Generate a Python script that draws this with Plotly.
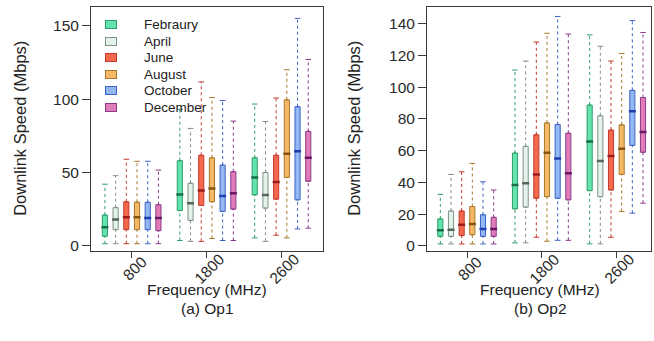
import plotly.graph_objects as go

months = ["Febraury", "April", "June", "August", "October", "December"]
freqs = ["800", "1800", "2600"]

fill_colors = ["#63e3ad", "#e4f3ea", "#f4694e", "#f4b866", "#94b8f1", "#e07cb8"]
line_colors = ["#2f9e6c", "#7f9188", "#c23a2c", "#a8782a", "#3d62c7", "#8a3a8a"]
median_colors = ["#1b7048", "#55665d", "#9c1c1c", "#845510", "#1f3fae", "#661766"]

# Op1 stats: per month, values for [800, 1800, 2600]
op1_lo  = [[1.4, 3.6, 5.4], [1.4, 3.0, 3.0], [1.4, 3.0, 7.2], [1.4, 5.0, 5.4], [1.4, 3.6, 11.5], [1.4, 3.6, 12.0]]
op1_q1  = [[6.5, 24, 34.7], [11, 17.3, 25.7], [11, 27.5, 31.8], [11, 30, 46.6], [11, 23.4, 31.3], [10.3, 25, 44]]
op1_med = [[12.6, 35, 46.6], [18, 29, 34.7], [19.4, 37.6, 43.5], [19.4, 39, 62.8], [19, 34, 64.4], [19, 35.8, 60]]
op1_q3  = [[21, 58, 60], [26, 42.6, 50], [30, 61.7, 61.7], [29.7, 60, 99.5], [29.7, 55, 94.8], [28, 50.5, 78]]
op1_hi  = [[42, 93, 96.6], [47.8, 80, 84.7], [59, 111.7, 100.7], [57.6, 101, 120], [57.6, 99, 155], [51.6, 85, 127]]

# Op2 stats
op2_lo  = [[1.2, 1.9, 1.25], [1.2, 1.9, 1.25], [1.2, 5.4, 5.4], [1.2, 2.9, 21.7], [1.2, 3.5, 20.6], [1.2, 3.5, 26.9]]
op2_q1  = [[6, 23.3, 34.8], [6, 24.4, 31], [6.5, 30, 35.2], [7, 31, 45], [6, 30, 63.3], [6, 29, 59]]
op2_med = [[9.8, 38.3, 65.8], [10.2, 39.4, 53.5], [13.3, 45, 56.7], [13.75, 58.75, 61.25], [10.6, 55, 84.8], [10.6, 45.8, 71.7]]
op2_q3  = [[17, 58.5, 88.75], [22, 62.7, 82], [22, 70, 73], [24.8, 77.5, 76.25], [19.6, 76.5, 98], [18, 71, 93.5]]
op2_hi  = [[32.5, 110.8, 133], [45, 116.5, 125.8], [46.7, 128.5, 116.5], [52, 134, 121.25], [40.4, 144.6, 142], [35.2, 133.5, 134.5]]

op1_yticks = [0, 50, 100, 150]
op2_yticks = [0, 20, 40, 60, 80, 100, 120, 140]

panel_titles = ["(a) Op1", "(b) Op2"]
x_title = "Frequency (MHz)"
y_title = "Downlink Speed (Mbps)"

FONT = "Liberation Sans, Arial, sans-serif"
TXT = "#222222"
n_m = len(months)
slot = n_m + 1
box_w = 0.48
W, H = 654, 341

def pos(i, j):
    return i * slot + j + 1

fig = go.Figure()

def add_panel(lo, q1, med, q3, hi, xa, ya):
    for j, m in enumerate(months):
        xs = [pos(i, j) for i in range(len(freqs))]
        fig.add_trace(go.Box(
            x=xs, q1=q1[j], median=med[j], q3=q3[j],
            lowerfence=q1[j], upperfence=q3[j],
            width=box_w, fillcolor=fill_colors[j],
            line=dict(color=line_colors[j], width=1),
            name=m, showlegend=False,
            xaxis=xa, yaxis=ya, boxpoints=False, hoverinfo="skip"))
        wx, wy = [], []
        for i, x in enumerate(xs):
            wx += [x, x, None, x, x, None]
            wy += [q3[j][i], hi[j][i], None, lo[j][i], q1[j][i], None]
        fig.add_trace(go.Scatter(
            x=wx, y=wy, mode="lines",
            line=dict(color=line_colors[j], width=1, dash="3px,3px"),
            showlegend=False, xaxis=xa, yaxis=ya, hoverinfo="skip"))
        fig.add_trace(go.Scatter(
            x=xs + xs, y=hi[j] + lo[j], mode="markers",
            marker=dict(symbol="line-ew", size=4,
                        line=dict(color=line_colors[j], width=1)),
            showlegend=False, xaxis=xa, yaxis=ya, hoverinfo="skip"))
        fig.add_trace(go.Scatter(
            x=xs, y=med[j], mode="markers",
            marker=dict(symbol="line-ew", size=5,
                        line=dict(color=median_colors[j], width=2.5)),
            showlegend=False, xaxis=xa, yaxis=ya, hoverinfo="skip"))

add_panel(op1_lo, op1_q1, op1_med, op1_q3, op1_hi, "x", "y")
add_panel(op2_lo, op2_q1, op2_med, op2_q3, op2_hi, "x2", "y2")

tickpos = [i * slot + (n_m + 1) / 2 for i in range(len(freqs))]

axis_common = dict(showline=True, linecolor="#3a3a3a", linewidth=1, mirror=True,
                   showgrid=False, zeroline=False, ticks="outside",
                   tickcolor="#3a3a3a", tickfont=dict(family=FONT, size=15.5, color="#2a2a2a"))

fig.update_layout(
    width=W, height=H,
    margin=dict(l=0, r=0, t=0, b=0),
    paper_bgcolor="white", plot_bgcolor="white",
    font=dict(family=FONT, color=TXT),
    showlegend=False,
    xaxis=dict(domain=[91 / W, 322.7 / W], range=[-0.3, 21.35], tickvals=tickpos,
               showticklabels=False, ticklen=6, **axis_common),
    yaxis=dict(domain=[1 - 253 / H, 1 - 7 / H], range=[-3.4, 162.8], tickvals=op1_yticks,
               ticklen=8, **axis_common),
    xaxis2=dict(domain=[427 / W, 651 / W], range=[-0.25, 20.75], tickvals=tickpos,
                showticklabels=False, ticklen=6, anchor="y2", **axis_common),
    yaxis2=dict(domain=[1 - 253 / H, 1 - 7 / H], range=[-3.1, 150.6], tickvals=op2_yticks,
                ticklen=8, anchor="x2", **axis_common),
)

def ann(**kw):
    base = dict(showarrow=False, xanchor="center", yanchor="middle",
                font=dict(family=FONT, size=15.5, color=TXT))
    base.update(kw)
    fig.add_annotation(**base)

# rotated x tick labels
for xa in ["x", "x2"]:
    for t, lab in zip(tickpos, freqs):
        ann(x=t, xref=xa, y=1 - 271 / H, yref="paper", text=lab, textangle=-45,
            xshift=3, font=dict(family=FONT, size=15.5, color="#2a2a2a"))

# axis titles and panel captions
for xc in [20, 354]:
    ann(x=xc / W, xref="paper", y=1 - 130 / H, yref="paper", text=y_title,
        textangle=-90, font=dict(family=FONT, size=16.5, color=TXT))
for xc, cap in zip([207, 540], panel_titles):
    ann(x=xc / W, xref="paper", y=1 - 292 / H, yref="paper", text=x_title)
    ann(x=xc / W, xref="paper", y=1 - 311 / H, yref="paper", text=cap)

# legend (swatch + label), rows 16.6 px apart
for k, m in enumerate(months):
    yk = 1 - (25 + k * 16.6) / H
    ann(x=111 / W, xref="paper", y=yk, yref="paper", text=" ", width=10, height=7,
        bgcolor=fill_colors[k], bordercolor=line_colors[k], borderwidth=1, borderpad=0,
        font=dict(family=FONT, size=6, color=TXT))
    ann(x=142 / W, xref="paper", y=yk, yref="paper", text=m, xanchor="left",
        font=dict(family=FONT, size=13.5, color=TXT))

fig.write_html("out.html")
